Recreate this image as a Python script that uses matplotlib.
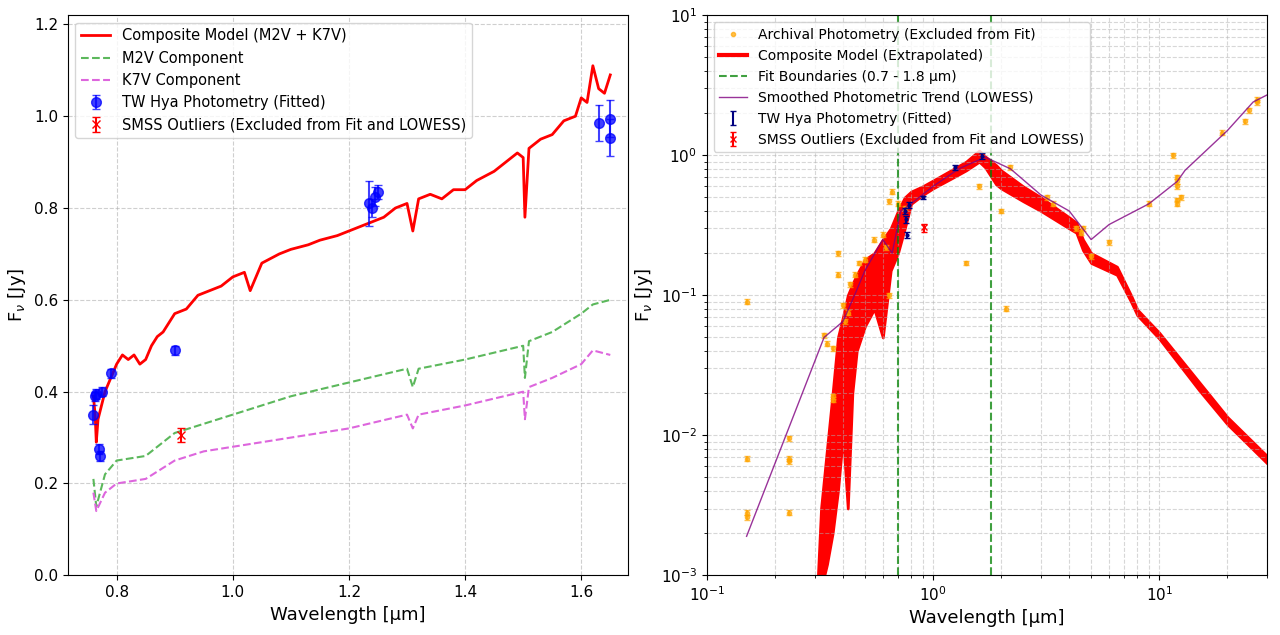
import numpy as np
import matplotlib
matplotlib.use('Agg')
import matplotlib.pyplot as plt

# ---- left panel data (fit range) ----
comp_wl = [0.760, 0.763, 0.765, 0.768, 0.772, 0.78, 0.79, 0.80, 0.81, 0.82, 0.83, 0.84, 0.85, 0.86, 0.87,
           0.88, 0.89, 0.90, 0.92, 0.94, 0.96, 0.98, 1.00, 1.02, 1.03, 1.05, 1.08, 1.10, 1.13, 1.15,
           1.18, 1.20, 1.22, 1.24, 1.26, 1.28, 1.30, 1.31, 1.32, 1.34, 1.36, 1.38, 1.40, 1.42,
           1.45, 1.47, 1.49, 1.50, 1.503, 1.51, 1.53, 1.55, 1.57, 1.59, 1.60, 1.61, 1.62, 1.63,
           1.64, 1.65]
comp_fl = [0.39, 0.35, 0.29, 0.34, 0.36, 0.40, 0.43, 0.46, 0.48, 0.47, 0.48, 0.46, 0.47, 0.50, 0.52,
           0.53, 0.55, 0.57, 0.58, 0.61, 0.62, 0.63, 0.65, 0.66, 0.62, 0.68, 0.70, 0.71, 0.72, 0.73,
           0.74, 0.75, 0.76, 0.77, 0.78, 0.80, 0.81, 0.75, 0.82, 0.83, 0.82, 0.84, 0.84, 0.86,
           0.88, 0.90, 0.92, 0.91, 0.78, 0.93, 0.95, 0.96, 0.99, 1.00, 1.04, 1.03, 1.11, 1.06,
           1.05, 1.09]
m2v_wl = [0.760, 0.765, 0.78, 0.80, 0.85, 0.90, 0.95, 1.00, 1.10, 1.20, 1.30, 1.31, 1.32, 1.40, 1.50,
          1.503, 1.51, 1.55, 1.60, 1.62, 1.65]
m2v_fl = [0.21, 0.15, 0.22, 0.25, 0.26, 0.31, 0.33, 0.35, 0.39, 0.42, 0.45, 0.41, 0.45, 0.47, 0.50,
          0.43, 0.51, 0.53, 0.57, 0.59, 0.60]
k7v_wl = [0.760, 0.765, 0.78, 0.80, 0.85, 0.90, 0.95, 1.00, 1.10, 1.20, 1.30, 1.31, 1.32, 1.40, 1.50,
          1.503, 1.51, 1.55, 1.60, 1.62, 1.65]
k7v_fl = [0.18, 0.14, 0.18, 0.20, 0.21, 0.25, 0.27, 0.28, 0.30, 0.32, 0.35, 0.32, 0.35, 0.37, 0.40,
          0.34, 0.41, 0.43, 0.46, 0.49, 0.48]

phot_wl = [0.760, 0.762, 0.765, 0.770, 0.771, 0.775, 0.79, 0.90, 1.235, 1.24, 1.245, 1.25, 1.63, 1.65, 1.65]
phot_fl = [0.35, 0.39, 0.395, 0.275, 0.26, 0.40, 0.44, 0.49, 0.81, 0.80, 0.825, 0.835, 0.985, 0.995, 0.953]
phot_err = [0.02, 0.01, 0.01, 0.01, 0.01, 0.01, 0.01, 0.01, 0.05, 0.02, 0.02, 0.015, 0.04, 0.04, 0.04]

smss_wl = [0.91]
smss_fl = [0.305]
smss_err = [0.015]

# ---- right panel data ----
ext_wl = [0.31, 0.32, 0.34, 0.36, 0.38, 0.40, 0.42, 0.44, 0.46, 0.50, 0.55, 0.60, 0.65, 0.70, 0.75, 0.80,
          0.90, 1.0, 1.2, 1.4, 1.6, 1.7, 1.9, 2.0, 2.5, 3.0, 4.0, 4.3, 4.6, 5.0, 6.5, 7.5, 8.0, 10, 15,
          20, 30]
ext_lo = [0.0008, 0.0008, 0.0012, 0.002, 0.004, 0.01, 0.003, 0.02, 0.04, 0.06, 0.08, 0.05, 0.15, 0.2, 0.3,
          0.45, 0.52, 0.58, 0.68, 0.78, 0.90, 0.82, 0.62, 0.58, 0.47, 0.40, 0.30, 0.28, 0.21, 0.17,
          0.14, 0.09, 0.072, 0.049, 0.021, 0.012, 0.0063]
ext_hi = [0.001, 0.003, 0.008, 0.02, 0.05, 0.07, 0.10, 0.12, 0.14, 0.18, 0.20, 0.25, 0.30, 0.40, 0.50,
          0.55, 0.60, 0.66, 0.78, 0.90, 1.08, 0.98, 0.85, 0.78, 0.60, 0.50, 0.36, 0.33, 0.25, 0.20,
          0.16, 0.10, 0.079, 0.054, 0.024, 0.0135, 0.0071]

lowess_wl = [0.15, 0.33, 0.40, 0.45, 0.50, 0.60, 0.66, 0.72, 0.80, 1.0, 1.3, 1.7, 2.2, 3.0, 4.0, 5.0,
             6.0, 9.0, 12, 13, 20, 26, 30]
lowess_fl = [0.0019, 0.05, 0.065, 0.10, 0.15, 0.25, 0.20, 0.40, 0.45, 0.60, 0.80, 0.97, 0.80, 0.52,
             0.40, 0.25, 0.32, 0.45, 0.65, 0.78, 1.5, 2.4, 2.7]

arch_wl = [0.15, 0.15, 0.15, 0.15, 0.23, 0.23, 0.23, 0.23, 0.33, 0.34, 0.36, 0.36, 0.36, 0.38, 0.38,
           0.40, 0.41, 0.42, 0.43, 0.45, 0.47, 0.50, 0.55, 0.60, 0.62, 0.64, 0.64, 0.66, 0.70, 0.75,
           1.4, 1.6, 2.0, 2.1, 2.2, 3.2, 3.4, 4.3, 4.5, 4.6, 5.0, 6.0, 9.0, 11.5, 12, 12, 12, 12, 12,
           12.5, 19, 24, 25, 27, 27]
arch_fl = [0.09, 0.0068, 0.0028, 0.0026, 0.0095, 0.0068, 0.0065, 0.0028, 0.052, 0.045, 0.019, 0.018,
           0.042, 0.14, 0.20, 0.085, 0.065, 0.075, 0.12, 0.14, 0.17, 0.18, 0.25, 0.27, 0.22, 0.10,
           0.47, 0.55, 0.45, 0.42, 0.17, 0.60, 0.40, 0.08, 0.82, 0.50, 0.45, 0.30, 0.28, 0.30, 0.19,
           0.24, 0.45, 1.0, 0.70, 0.65, 0.60, 0.48, 0.45, 0.50, 1.45, 1.75, 2.1, 2.4, 2.5]

fit_wl = [0.75, 0.76, 0.77, 0.78, 0.90, 1.25, 1.65]
fit_fl = [0.40, 0.35, 0.27, 0.44, 0.50, 0.82, 0.99]
fit_err = [0.02, 0.02, 0.015, 0.02, 0.01, 0.03, 0.05]

fig, (ax1, ax2) = plt.subplots(1, 2, figsize=(12.8, 6.35), dpi=100)
plt.subplots_adjust(left=0.053, right=0.99, top=0.976, bottom=0.094, wspace=0.14)

ax1.plot(comp_wl, comp_fl, '-', color='red', lw=2, label='Composite Model (M2V + K7V)')
ax1.plot(m2v_wl, m2v_fl, '--', color='#5cb85c', lw=1.5, label='M2V Component')
ax1.plot(k7v_wl, k7v_fl, '--', color='#dd66dd', lw=1.5, label='K7V Component')
ax1.errorbar(phot_wl, phot_fl, yerr=phot_err, fmt='o', color='blue', ms=7, alpha=0.75, capsize=3,
             label='TW Hya Photometry (Fitted)')
ax1.errorbar(smss_wl, smss_fl, yerr=smss_err, fmt='x', color='red', ms=6, capsize=3,
             label='SMSS Outliers (Excluded from Fit and LOWESS)')
ax1.set_xlim(0.716, 1.681)
ax1.set_ylim(0, 1.22)
ax1.set_xlabel('Wavelength [μm]', fontsize=13)
ax1.set_ylabel('F$_ν$ [Jy]', fontsize=13)
ax1.tick_params(labelsize=11)
ax1.grid(True, ls='--', alpha=0.6)
ax1.legend(loc='upper left', fontsize=10.5)

h_arch, = ax2.plot(arch_wl, arch_fl, 'o', color='orange', ms=3, alpha=0.7,
                   label='Archival Photometry (Excluded from Fit)')
ax2.errorbar(arch_wl, arch_fl, yerr=[f * 0.04 for f in arch_fl], fmt='none', ecolor='orange',
             alpha=0.7, capsize=2, elinewidth=1.5)
ax2.fill_between(ext_wl, ext_lo, ext_hi, color='red', lw=2, edgecolor='red')
h_comp, = ax2.plot([], [], '-', color='red', lw=3, label='Composite Model (Extrapolated)')
h_fb = ax2.axvline(0.7, color='green', ls='--', lw=1.5, alpha=0.75, label='Fit Boundaries (0.7 - 1.8 μm)')
ax2.axvline(1.8, color='green', ls='--', lw=1.5, alpha=0.75)
h_low, = ax2.plot(lowess_wl, lowess_fl, '-', color='purple', lw=1, alpha=0.8,
                  label='Smoothed Photometric Trend (LOWESS)')
h_fit = ax2.errorbar(fit_wl, fit_fl, yerr=fit_err, fmt='none', ecolor='navy', capsize=2,
                     label='TW Hya Photometry (Fitted)')
ax2.plot(fit_wl, fit_fl, 'o', color='navy', ms=2)
h_smss = ax2.errorbar([0.91], [0.305], yerr=[0.02], fmt='x', color='red', ms=4, capsize=2,
                      label='SMSS Outliers (Excluded from Fit and LOWESS)')
ax2.set_xscale('log')
ax2.set_yscale('log')
ax2.set_xlim(0.1, 30)
ax2.set_ylim(1e-3, 10)
ax2.set_xlabel('Wavelength [μm]', fontsize=13)
ax2.set_ylabel('F$_ν$ [Jy]', fontsize=13)
ax2.tick_params(labelsize=11)
ax2.grid(True, which='both', ls='--', alpha=0.5)
ax2.legend(handles=[h_arch, h_comp, h_fb, h_low, h_fit, h_smss], loc='upper left', fontsize=10)

plt.savefig('out.png')
